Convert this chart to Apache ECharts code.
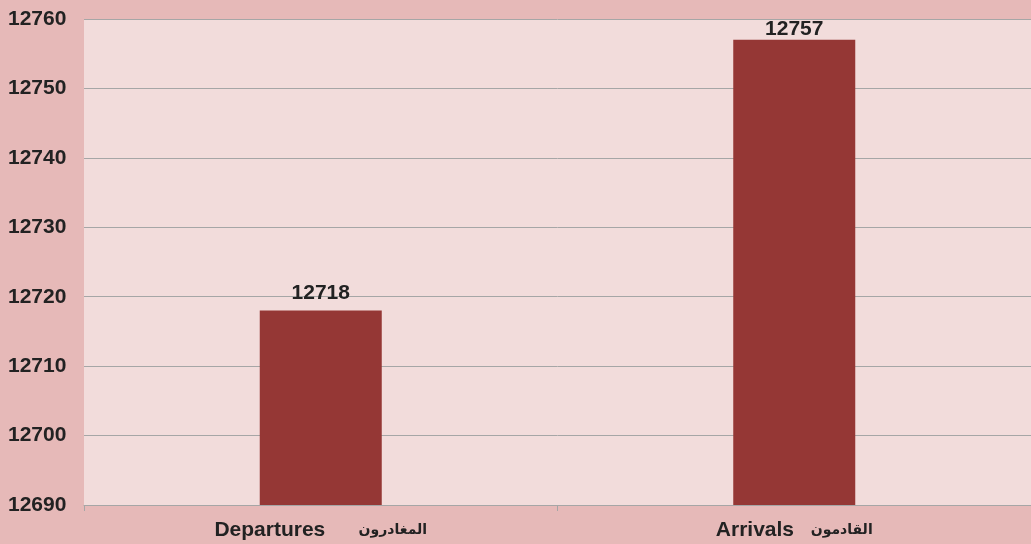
<!DOCTYPE html>
<html>
<head>
<meta charset="utf-8">
<script src="https://cdn.jsdelivr.net/npm/echarts@6/dist/echarts.min.js"></script>
<style>
  html, body { margin: 0; padding: 0; background: #E6B9B8; }
  #main { width: 1031px; height: 544px; }
</style>
</head>
<body>
<div id="main"></div>
<script>
var categories = ['Departures', 'Arrivals'];
var arabicNames = ['المغادرون', 'القادمون'];
var travellers = [12718, 12757];
// gap between the english and arabic part of each label
var labelGaps = ['          ', '     '];

var myChart = echarts.init(document.getElementById('main'));

var option = {
	backgroundColor: '#E6B9B8',
	animation: false,
	grid: {
		left: 84,
		top: 19,
		right: -7,
		bottom: 39,
		show: true,
		backgroundColor: '#F2DCDB',
		borderWidth: 0
	},
	xAxis: {
		type: 'category',
		data: categories,
		axisLine: {
			lineStyle: { color: '#A6A6A6', width: 1 }
		},
		axisTick: {
			show: true,
			length: 6,
			lineStyle: { color: '#A6A6A6', width: 1 }
		},
		axisLabel: {
			margin: 15,
			formatter: function (value, idx) {
				return '{en|' + value + '}' + labelGaps[idx] + '{ar|' + arabicNames[idx] + '}';
			},
			rich: {
				en: {
					fontFamily: 'Liberation Sans, Arial, sans-serif',
					fontWeight: 'bold',
					fontSize: 21,
					color: '#222'
				},
				ar: {
					fontFamily: 'DejaVu Sans, sans-serif',
					fontWeight: 'bold',
					fontSize: 14,
					color: '#222'
				}
			}
		}
	},
	yAxis: {
		type: 'value',
		min: 12690,
		max: 12760,
		interval: 10,
		axisLine: { show: false },
		axisTick: { show: false },
		axisLabel: {
			margin: 76,
			align: 'left',
			formatter: function (v) { return String(v); },
			fontFamily: 'Liberation Sans, Arial, sans-serif',
			fontWeight: 'bold',
			fontSize: 21,
			color: '#222'
		},
		splitLine: {
			lineStyle: { color: '#A6A6A6', width: 1 }
		}
	},
	series: [
		{
			type: 'bar',
			data: travellers.map(function (v, i) {
				// the tallest label is squeezed against the top of the plot
				return { value: v, label: { distance: i === 1 ? 0 : 7 } };
			}),
			barWidth: 122,
			itemStyle: { color: '#953735' },
			label: {
				show: true,
				position: 'top',
				fontFamily: 'Liberation Sans, Arial, sans-serif',
				fontWeight: 'bold',
				fontSize: 21,
				color: '#222'
			}
		}
	]
};

myChart.setOption(option);
</script>
</body>
</html>
